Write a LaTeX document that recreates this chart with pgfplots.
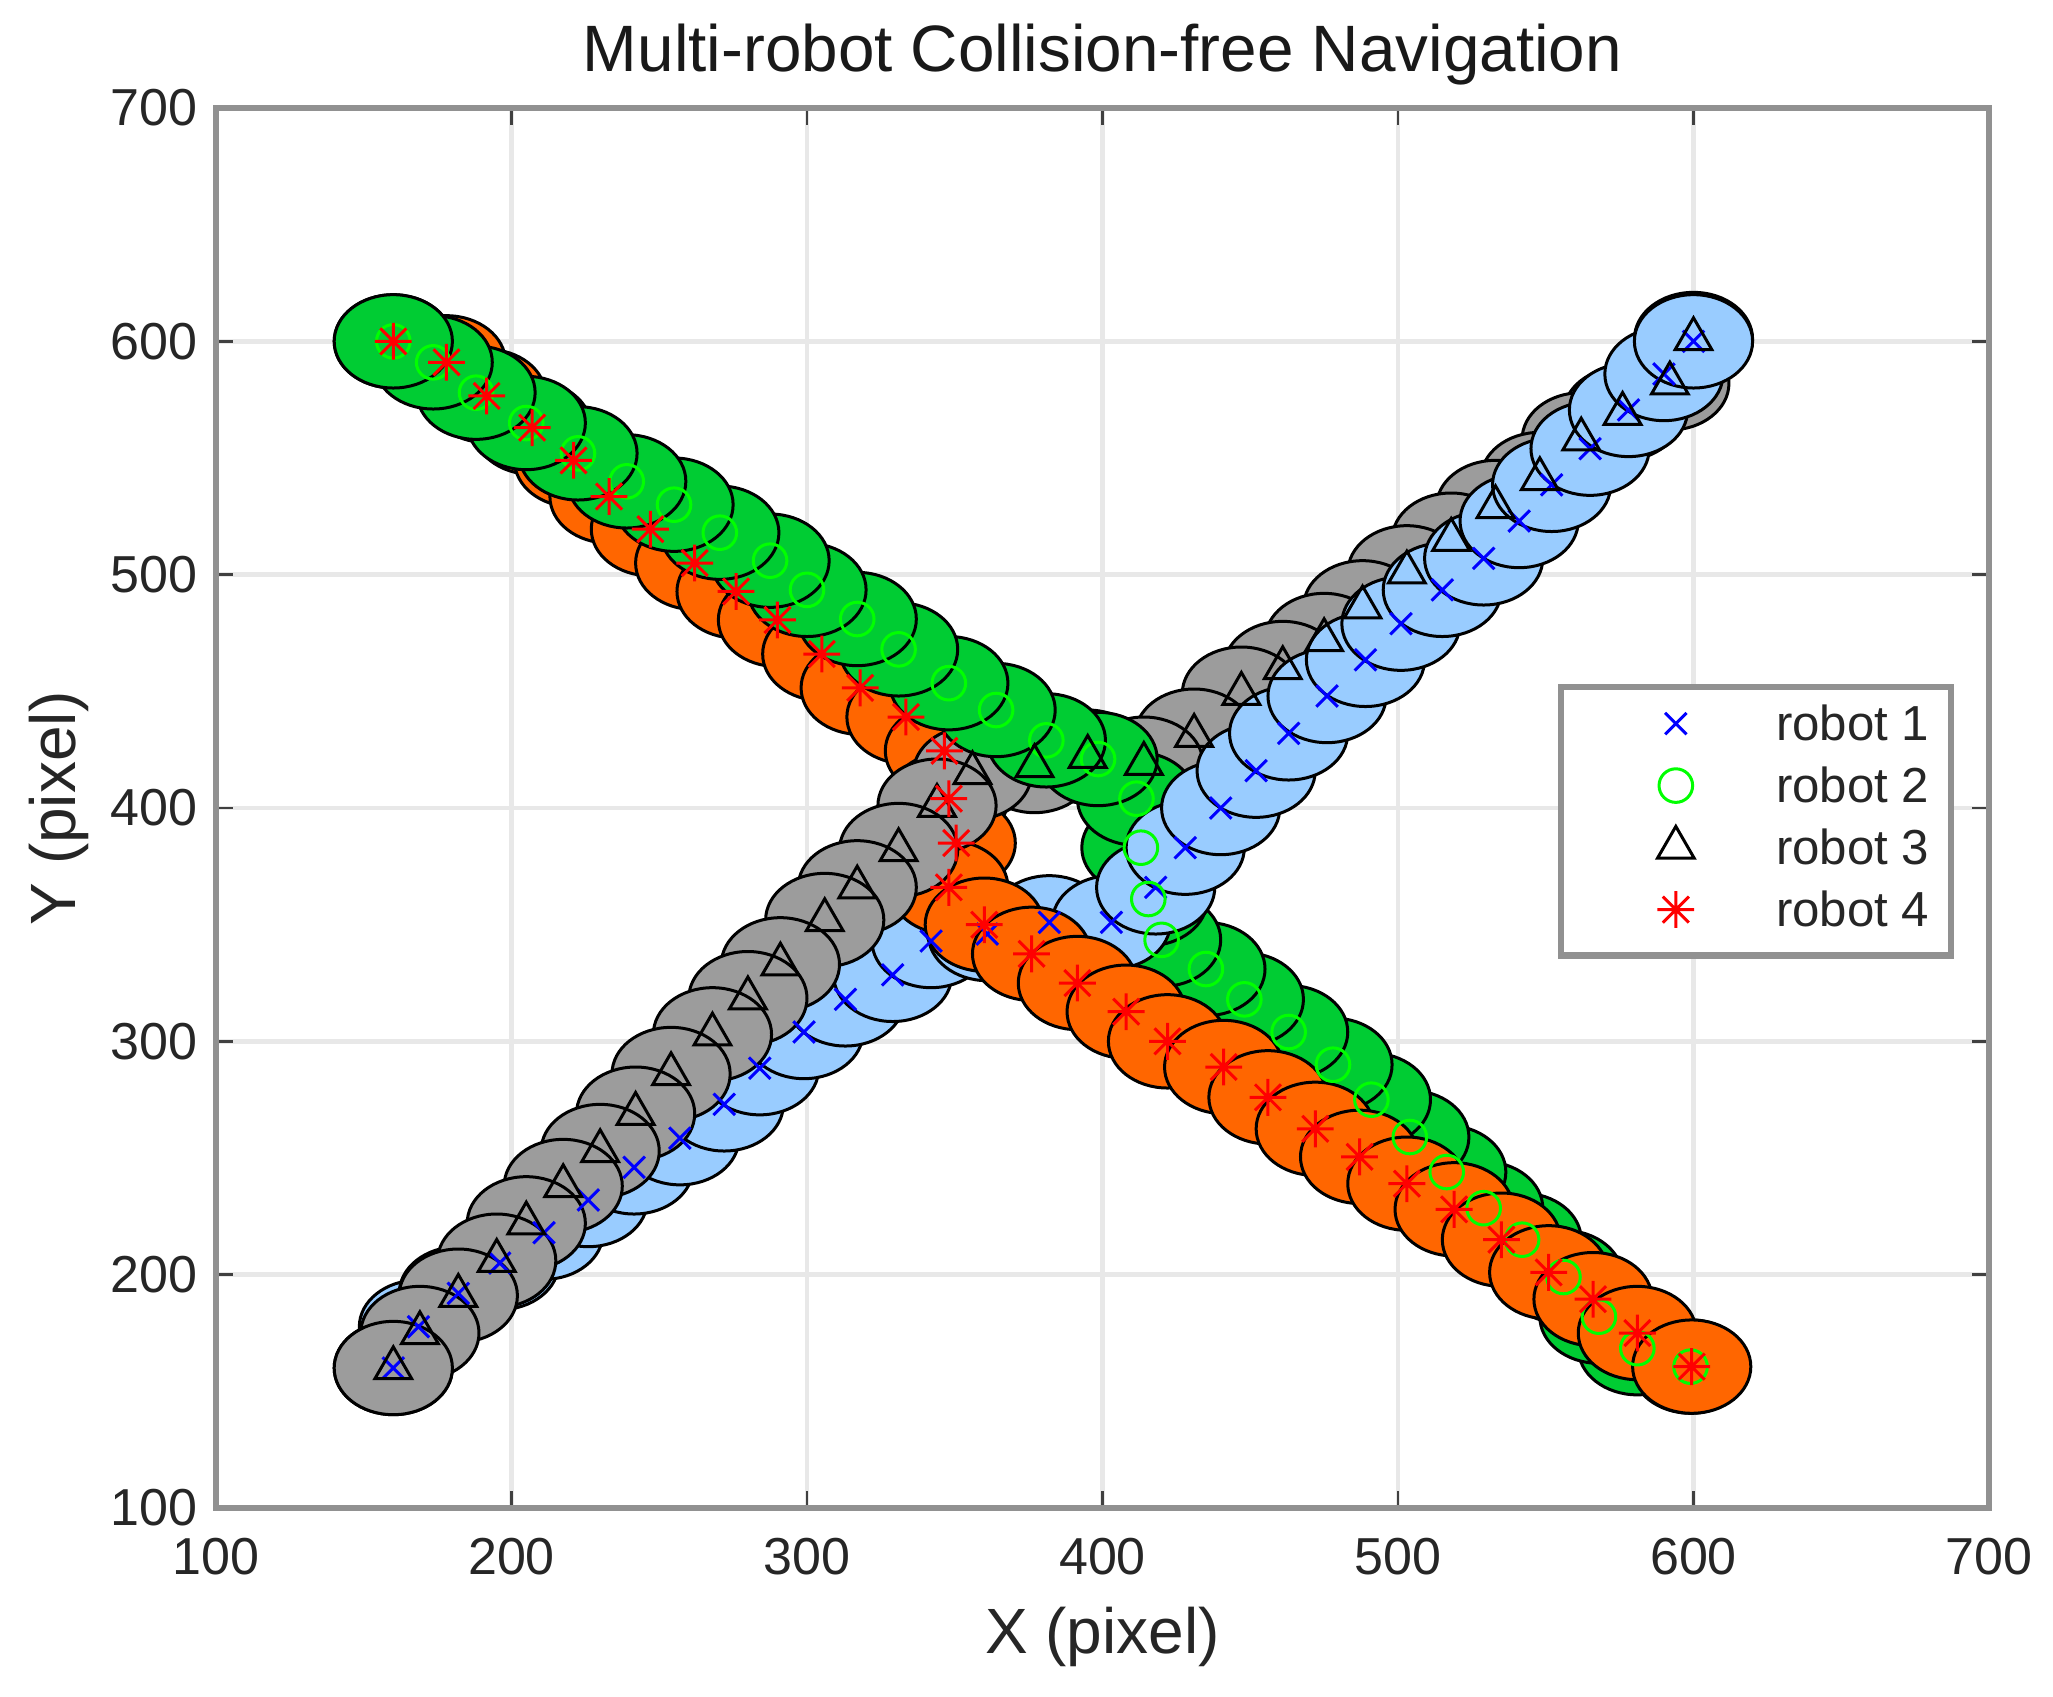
\documentclass[border=0pt]{standalone}
\usepackage{fontspec}
\setmainfont{Liberation Sans}
\usepackage{pgfplots}
\usepackage{pgfplotstable}
\pgfplotsset{compat=1.18}

\definecolor{cblue}{RGB}{153,204,255}
\definecolor{cgreen}{RGB}{0,204,51}
\definecolor{cgray}{RGB}{156,156,156}
\definecolor{corange}{RGB}{255,102,0}
\definecolor{axgray}{RGB}{145,145,145}
\definecolor{gridgray}{RGB}{232,232,232}
\definecolor{ticktext}{RGB}{38,38,38}
\definecolor{mgreen}{RGB}{0,255,0}

% robot body: radius 20 data units (x: 443.25pt/600, y: 350pt/600)
\pgfdeclareplotmark{robotdisk}{%
  \pgfpathellipse{\pgfpointorigin}{\pgfqpoint{14.775pt}{0pt}}{\pgfqpoint{0pt}{11.667pt}}%
  \pgfusepathqfillstroke}
\pgfdeclareplotmark{mstar}{%
  \pgfpathmoveto{\pgfqpoint{-\pgfplotmarksize}{0pt}}\pgfpathlineto{\pgfqpoint{\pgfplotmarksize}{0pt}}%
  \pgfpathmoveto{\pgfqpoint{0pt}{-\pgfplotmarksize}}\pgfpathlineto{\pgfqpoint{0pt}{\pgfplotmarksize}}%
  \pgfpathmoveto{\pgfqpoint{-0.7071\pgfplotmarksize}{-0.7071\pgfplotmarksize}}\pgfpathlineto{\pgfqpoint{0.7071\pgfplotmarksize}{0.7071\pgfplotmarksize}}%
  \pgfpathmoveto{\pgfqpoint{-0.7071\pgfplotmarksize}{0.7071\pgfplotmarksize}}\pgfpathlineto{\pgfqpoint{0.7071\pgfplotmarksize}{-0.7071\pgfplotmarksize}}%
  \pgfusepathqstroke}

% robot bodies in time order (step k: robot 1, 2, 3, 4)
\pgfplotstableread{
x y label
160 160 a
599 160.6 b
600 601 c
160 600 d
168.5 177.7 a
581 168.5 b
592 582 c
178 591 d
182 192 a
568 182 b
576 569 c
191.6 576.6 d
196 205 a
556 199 b
562 558 c
207 563 d
211 218 a
542 215 b
548 541 c
221 549 d
226 232 a
529 228.5 b
533 529 c
233 533.5 d
241.5 246 a
516.5 244 b
518 515 c
247 519.5 d
257 258.5 a
504 259 b
503 501 c
262 505 d
272 273 a
491 275 b
488 486 c
276 492.8 d
284 288.5 a
478 290 b
475 472 c
290 480.6 d
299 304 a
463 304 b
461 460 c
305 466 d
313 318 a
448 318 b
447 449 c
318 451.5 d
329 328.5 a
435 331 b
431 431 c
333.5 439 d
342 343 a
420 343.5 b
414 419 c
346.5 424.5 d
361 346 a
415.5 361 b
395 422 c
348 404 d
382 351 a
413 383 b
377 418 c
350.5 385 d
403 351 a
411.5 404 b
356 415 c
348 366 d
418 366 a
398.5 421 b
344 401 c
360 350 d
428 383 a
381 429 b
331 382 c
376 337.5 d
440 400 a
364 442 b
317 366 c
391.5 325 d
452 416 a
348 453.5 b
306 352 c
408 312.7 d
463 432 a
331 468 b
291 333 c
422 300 d
476 448 a
317 481 b
280 318.5 c
441 289 d
489 463.5 a
300 493.5 b
268 303 c
456 276 d
501 479 a
287.5 506 b
254 286 c
472 262.5 d
515 493.5 a
270.5 518 b
242 269 c
487 250.5 d
529 507 a
255 530 b
230 253 c
503 239 d
541 523 a
239 540 b
217.5 238 c
519 228 d
552 538.5 a
222.5 552 b
205 222 c
535 215 d
565 554 a
205 565 b
195 206 c
551 201 d
578 570.6 a
188 578 b
182 191 c
566 189.5 d
590 586 a
173.5 591 b
169 175 c
581 175 d
600 600 a
160 600 b
160 160 c
599.4 160.6 d
}\bodies

\pgfplotstableread{
x y
160 160
168.5 177.7
182 192
196 205
211 218
226 232
241.5 246
257 258.5
272 273
284 288.5
299 304
313 318
329 328.5
342 343
361 346
382 351
403 351
418 366
428 383
440 400
452 416
463 432
476 448
489 463.5
501 479
515 493.5
529 507
541 523
552 538.5
565 554
578 570.6
590 586
600 600
}\robotA

\pgfplotstableread{
x y
599 160.6
581 168.5
568 182
556 199
542 215
529 228.5
516.5 244
504 259
491 275
478 290
463 304
448 318
435 331
420 343.5
415.5 361
413 383
411.5 404
398.5 421
381 429
364 442
348 453.5
331 468
317 481
300 493.5
287.5 506
270.5 518
255 530
239 540
222.5 552
205 565
188 578
173.5 591
160 600
}\robotB

\pgfplotstableread{
x y
600 601
592 582
576 569
562 558
548 541
533 529
518 515
503 501
488 486
475 472
461 460
447 449
431 431
414 419
395 422
377 418
356 415
344 401
331 382
317 366
306 352
291 333
280 318.5
268 303
254 286
242 269
230 253
217.5 238
205 222
195 206
182 191
169 175
160 160
}\robotC

\pgfplotstableread{
x y
160 600
178 591
191.6 576.6
207 563
221 549
233 533.5
247 519.5
262 505
276 492.8
290 480.6
305 466
318 451.5
333.5 439
346.5 424.5
348 404
350.5 385
348 366
360 350
376 337.5
391.5 325
408 312.7
422 300
441 289
456 276
472 262.5
487 250.5
503 239
519 228
535 215
551 201
566 189.5
581 175
599.4 160.6
}\robotD

\begin{document}
\begin{tikzpicture}
\path[use as bounding box] (-54pt,-47pt) rectangle (459.25pt,377pt);
\begin{axis}[
  at={(0pt,0pt)}, anchor=south west,
  width=443.25pt, height=350pt, scale only axis,
  xmin=100, xmax=700, ymin=100, ymax=700,
  xtick={100,200,...,700}, ytick={100,200,...,700},
  /pgf/number format/assume math mode=true,
  grid=major,
  major grid style={gridgray, line width=1.2pt},
  axis line style={axgray, line width=1.6pt},
  tick style={black!75, line width=0.6pt},
  major tick length=4.2pt,
  tick align=inside,
  ticklabel style={font=\fontsize{13}{13}\selectfont, text=ticktext},
  xticklabel style={yshift=-4pt},
  yticklabel style={xshift=-1.2pt},
  xlabel={X (pixel)}, ylabel={Y (pixel)},
  label style={font=\fontsize{16}{16}\selectfont, text=ticktext},
  x label style={at={(axis description cs:0.5,-0.0921)}, anchor=center},
  y label style={at={(axis description cs:-0.0886,0.5)}, anchor=center},
  title={Multi-robot Collision-free Navigation},
  title style={at={(axis description cs:0.5,1.0086)}, anchor=base, font=\fontsize{16.4}{16.4}\selectfont, text=black!90},
  legend cell align=left,
  legend style={at={(axis description cs:0.9805,0.5886)}, anchor=north east,
    draw=axgray, line width=1.6pt, inner xsep=1.75pt, inner ysep=2.55pt,
    font=\fontsize{12.3}{12.3}\selectfont, text=ticktext,
    cells={anchor=base west},
    nodes={inner xsep=3.75pt, inner ysep=0pt, text height=10.75pt, text depth=4.75pt},
    row sep=0pt, column sep=5pt},
  legend image code/.code={\path[draw=none,fill=none] (0pt,0pt) rectangle (43.3pt,8pt);
    \draw[#1, line width=0.75pt] plot coordinates {(27pt,4.2pt)};},
]
\addplot[scatter, only marks, mark=robotdisk, forget plot,
  scatter src=explicit symbolic,
  scatter/classes={a={draw=black,fill=cblue}, b={draw=black,fill=cgreen},
                   c={draw=black,fill=cgray}, d={draw=black,fill=corange}},
  mark options={line width=0.75pt}] table[meta=label] {\bodies};

\addplot[only marks, mark=x, mark size=3.8pt, blue, mark options={line width=0.75pt}] table {\robotA};
\addlegendentry{robot 1}
\addplot[only marks, mark=o, mark size=4.2pt, mgreen, mark options={line width=0.75pt}] table {\robotB};
\addlegendentry{robot 2}
\addplot[only marks, mark=triangle, mark size=5.3pt, black, mark options={line width=0.75pt}] table {\robotC};
\addlegendentry{robot 3}
\addplot[only marks, mark=mstar, mark size=4.6pt, red, mark options={line width=0.75pt}] table {\robotD};
\addlegendentry{robot 4}
\end{axis}
\end{tikzpicture}
\end{document}
